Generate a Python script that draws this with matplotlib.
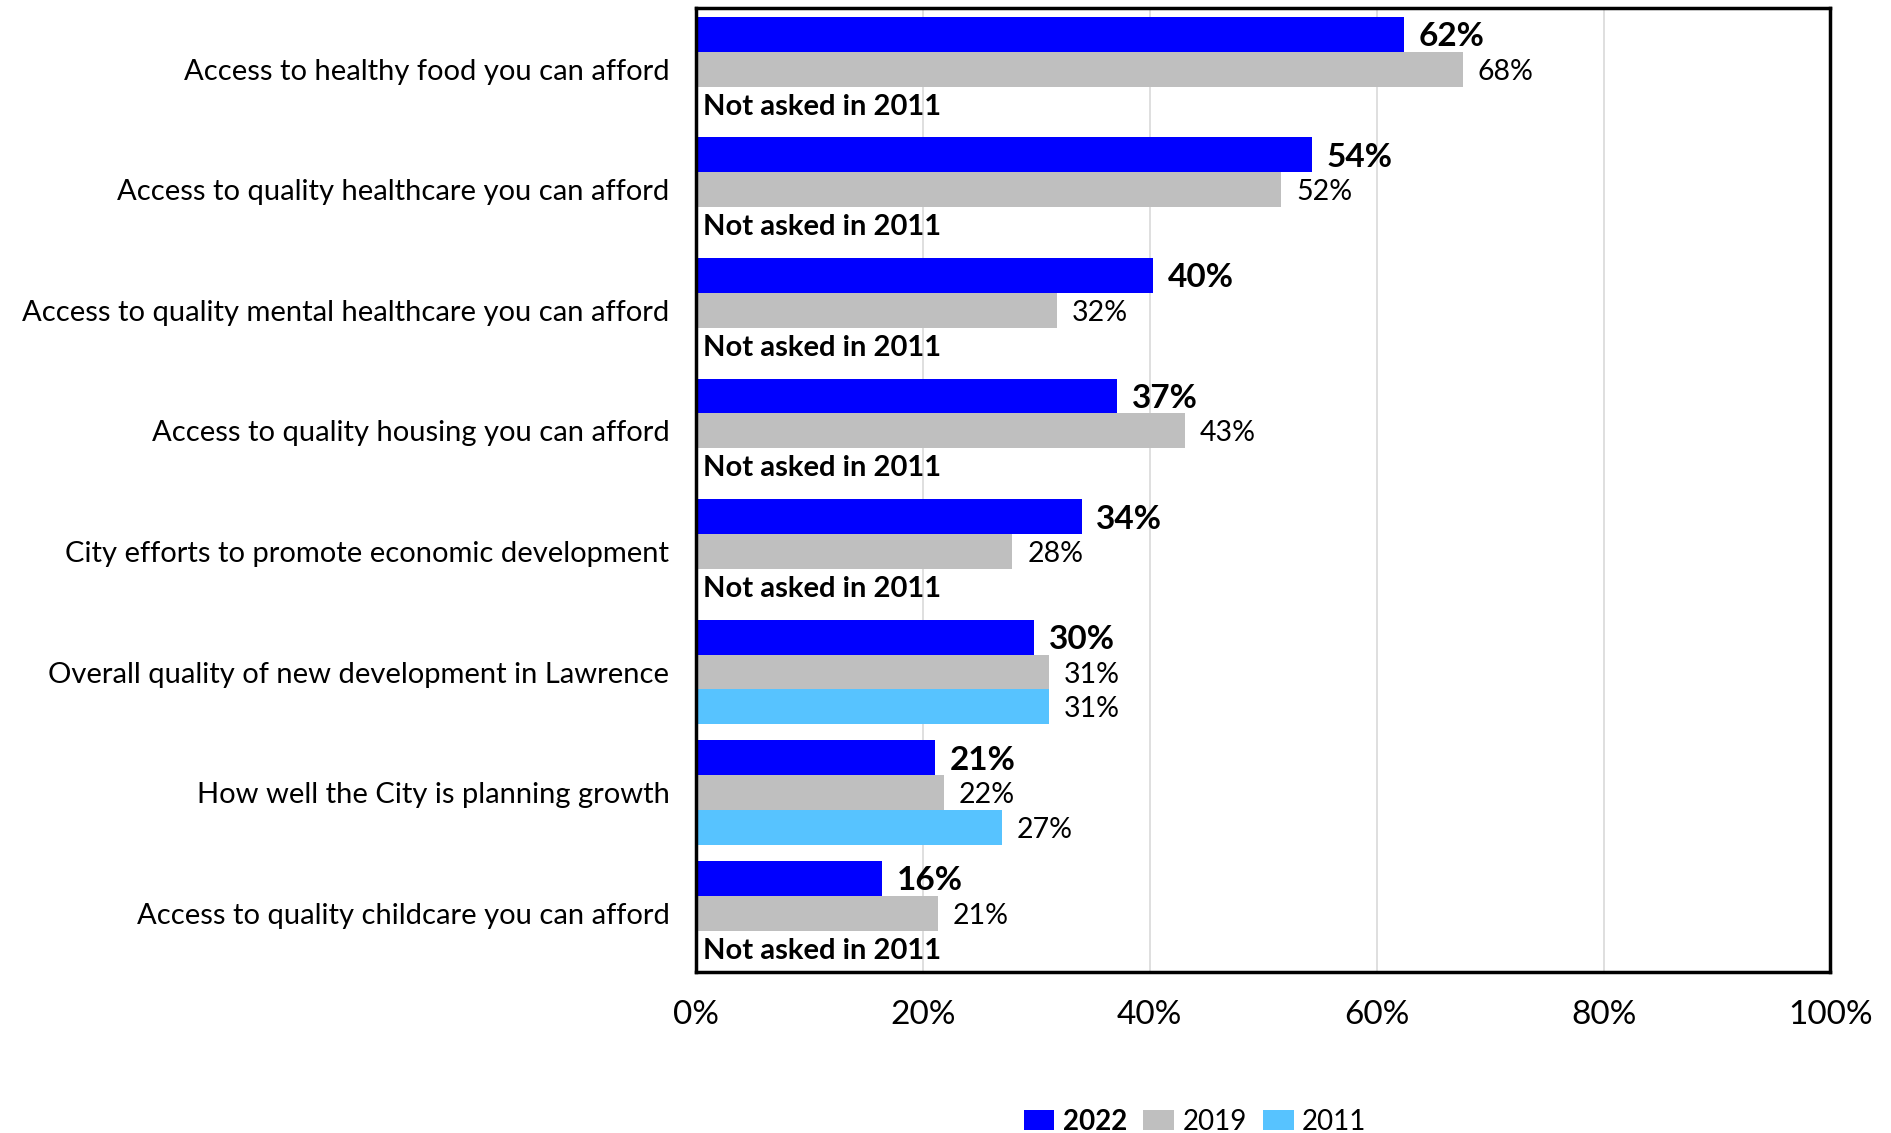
import matplotlib
matplotlib.use("Agg")
import matplotlib.pyplot as plt
from matplotlib.patches import Patch
import numpy as np

plt.rcParams["font.family"] = ["Lato", "DejaVu Sans"]

categories = [
    "Access to healthy food you can afford",
    "Access to quality healthcare you can afford",
    "Access to quality mental healthcare you can afford",
    "Access to quality housing you can afford",
    "City efforts to promote economic development",
    "Overall quality of new development in Lawrence",
    "How well the City is planning growth",
    "Access to quality childcare you can afford",
]
values_2022 = [62.4, 54.3, 40.3, 37.1, 34.0, 29.8, 21.1, 16.4]
values_2019 = [67.6, 51.6, 31.8, 43.1, 27.9, 31.1, 21.9, 21.3]
values_2011 = [None, None, None, None, None, 31.1, 27.0, None]
series_names = ["2022", "2019", "2011"]
colors = ["#0000FF", "#BFBFBF", "#57C3FF"]
xticks = [0, 20, 40, 60, 80, 100]

fig = plt.figure(figsize=(18.91, 11.33), dpi=100)
ax = fig.add_axes([0.368, 0.142, 0.6, 0.851])

y = np.arange(len(categories))
h = 0.29
offsets = [-h, 0, h]
all_series = [values_2022, values_2019, values_2011]

for k, (vals, col) in enumerate(zip(all_series, colors)):
    for i, v in enumerate(vals):
        yy = y[i] + offsets[k]
        if v is None:
            ax.text(0.6, yy, "Not asked in 2011", ha="left", va="center_baseline",
                    fontsize=21, fontweight="bold", color="black")
            continue
        ax.barh(yy, v, height=h, color=col, zorder=2)
        if k == 0:
            ax.text(v + 1.3, yy, f"{v:.0f}%", ha="left", va="center_baseline",
                    fontsize=24, fontweight="bold", color="black")
        else:
            ax.text(v + 1.3, yy, f"{v:.0f}%", ha="left", va="center_baseline",
                    fontsize=20.5, color="black")

ax.set_xlim(0, 100)
ax.set_ylim(len(categories) - 0.51, -0.51)
ax.set_yticks(y)
ax.set_yticklabels(categories, fontsize=21)
ax.set_xticks(xticks)
ax.set_xticklabels([f"{t}%" for t in xticks], fontsize=24)
ax.tick_params(axis="both", length=0)
ax.tick_params(axis="y", pad=19)
ax.tick_params(axis="x", pad=20)
ax.grid(axis="x", color="#D9D9D9", linewidth=1.2, zorder=0)
ax.set_axisbelow(True)
for s in ax.spines.values():
    s.set_color("black")
    s.set_linewidth(2.5)

handles = [Patch(facecolor=c, edgecolor="none") for c in colors]
leg = fig.legend(handles, series_names, loc="center", bbox_to_anchor=(0.632, 0.010),
                 ncol=3, frameon=False, fontsize=20, handlelength=1.1,
                 handleheight=0.7, handletextpad=0.3, columnspacing=0.6)
leg.get_texts()[0].set_fontweight("bold")

fig.savefig("out.png", dpi=100)
